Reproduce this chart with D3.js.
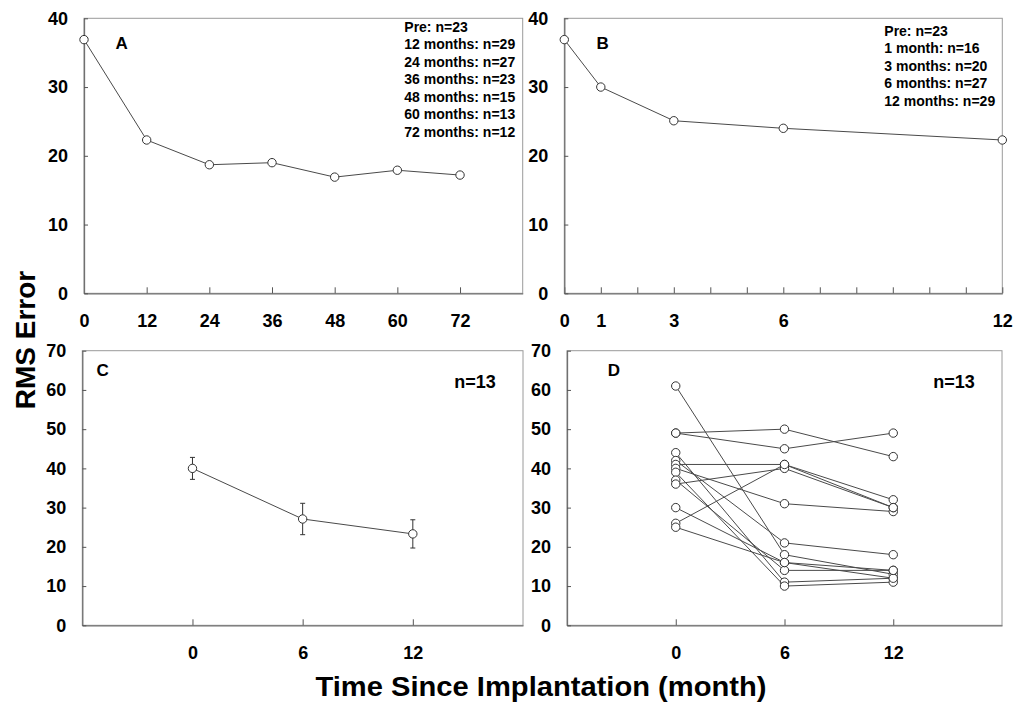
<!DOCTYPE html>
<html>
<head>
<meta charset="utf-8">
<script src="https://cdn.jsdelivr.net/npm/d3@7"></script>
<style>
  body { margin: 0; background: #fff; }
  svg { font-family: "Liberation Sans", Arial, sans-serif; }
  .tick text { font-weight: bold; font-size: 18px; fill: #000; }
</style>
</head>
<body>
<svg width="1016" height="703"></svg>
<script>
// Panel A: long term follow-up
const monthsA = [0, 12, 24, 36, 48, 60, 72];
const rmsA = [36.9, 22.3, 18.7, 19.0, 16.9, 17.9, 17.2];
const legendA = ["Pre: n=23", "12 months: n=29", "24 months: n=27", "36 months: n=23",
                 "48 months: n=15", "60 months: n=13", "72 months: n=12"];

// Panel B: first year
const monthsB = [0, 1, 3, 6, 12];
const rmsB = [36.9, 30.0, 25.1, 24.0, 22.3];
const legendB = ["Pre: n=23", "1 month: n=16", "3 months: n=20", "6 months: n=27", "12 months: n=29"];

// Panel C: mean +/- error, n=13
const monthsC = [0, 6, 12];
const meanC = [40.0, 27.1, 23.3];
const errC = [2.8, 4.0, 3.6];

// Panel D: individual subjects (0, 6, 12 months)
const monthsD = [0, 6, 12];
const subjectsD = [
    [61, 18, 13],
    [49, 50, 43],
    [49, 45, 49],
    [44, 11, 12],
    [42, 21, 18],
    [41, 41, 32],
    [40, 31, 29],
    [39, 10, 11],
    [37, 14, 14],
    [36, 40, 30],
    [30, 16, 12],
    [26, 41, 30],
    [25, 16, 14]
];

const svg = d3.select("svg");

function makePanel(p) {
    // рамка и оси одной панели
    let x = d3.scaleLinear().domain(p.xDomain).range([p.left, p.right]);
    let y = d3.scaleLinear().domain(p.yDomain).range([p.bottom, p.top]);

    svg.append("rect")
        .attr("x", p.left).attr("y", p.top)
        .attr("width", p.right - p.left).attr("height", p.bottom - p.top)
        .attr("fill", "none").attr("stroke", "#9a9a9a").attr("stroke-width", 1);

    let axisX = d3.axisBottom(x)
        .tickValues(p.xTicks)
        .tickSizeInner(-6).tickSizeOuter(0).tickPadding(21)
        .tickFormat(d => p.xLabels.includes(d) ? d : "");
    let gx = svg.append("g")
        .attr("transform", `translate(0, ${p.bottom})`)
        .call(axisX);

    let axisY = d3.axisLeft(y)
        .tickValues(p.yTicks)
        .tickSizeInner(-4).tickSizeOuter(0).tickPadding(16);
    let gy = svg.append("g")
        .attr("transform", `translate(${p.left}, 0)`)
        .call(axisY);

    [gx, gy].forEach(g => {
        g.select(".domain").attr("stroke", "#707070").attr("stroke-width", 1.3);
        g.selectAll(".tick line").attr("stroke", "#555");
    });
    return { x: x, y: y };
}

function drawSeries(sc, xs, ys) {
    let line = d3.line().x((d, i) => sc.x(xs[i])).y(d => sc.y(d));
    svg.append("path")
        .datum(ys)
        .attr("d", line)
        .attr("fill", "none").attr("stroke", "#4a4a4a").attr("stroke-width", 1);
    svg.append("g").selectAll("circle")
        .data(ys)
        .enter()
        .append("circle")
        .attr("cx", (d, i) => sc.x(xs[i]))
        .attr("cy", d => sc.y(d))
        .attr("r", 4.2)
        .attr("fill", "#fff").attr("stroke", "#333").attr("stroke-width", 1);
}

function label(txt, x, y, size, anchor) {
    svg.append("text")
        .attr("x", x).attr("y", y)
        .attr("text-anchor", anchor || "middle")
        .attr("font-weight", "bold").attr("font-size", size)
        .text(txt);
}

// A
let scA = makePanel({
    left: 84, right: 522.7, top: 18.3, bottom: 293.3,
    xDomain: [0, 84], yDomain: [0, 40],
    xTicks: monthsA, xLabels: monthsA, yTicks: [0, 10, 20, 30, 40]
});
drawSeries(scA, monthsA, rmsA);
label("A", 121.7, 49, 17);
legendA.forEach((t, i) => label(t, 404.3, 31.7 + i * 17.5, 14, "start"));

// B
let scB = makePanel({
    left: 564.3, right: 1002.3, top: 18.3, bottom: 293.3,
    xDomain: [0, 12], yDomain: [0, 40],
    xTicks: d3.range(0, 13), xLabels: monthsB, yTicks: [0, 10, 20, 30, 40]
});
drawSeries(scB, monthsB, rmsB);
label("B", 602.7, 49, 17);
legendB.forEach((t, i) => label(t, 884.3, 35.7 + i * 17.5, 14, "start"));

// C
let scC = makePanel({
    left: 82.3, right: 523, top: 350.7, bottom: 625.3,
    xDomain: [-6, 18], yDomain: [0, 70],
    xTicks: monthsC, xLabels: monthsC, yTicks: d3.range(0, 71, 10)
});
let bars = svg.append("g").attr("stroke", "#333").attr("stroke-width", 1);
meanC.forEach((m, i) => {
    let cx = scC.x(monthsC[i]);
    bars.append("line").attr("x1", cx).attr("x2", cx)
        .attr("y1", scC.y(m - errC[i])).attr("y2", scC.y(m + errC[i]));
    [m - errC[i], m + errC[i]].forEach(v => {
        bars.append("line").attr("x1", cx - 2.5).attr("x2", cx + 2.5)
            .attr("y1", scC.y(v)).attr("y2", scC.y(v));
    });
});
drawSeries(scC, monthsC, meanC);
label("C", 102.7, 376, 17);
label("n=13", 475, 388, 18);

// D
let scD = makePanel({
    left: 567, right: 1002, top: 350.7, bottom: 625.3,
    xDomain: [-6, 18], yDomain: [0, 70],
    xTicks: monthsD, xLabels: monthsD, yTicks: d3.range(0, 71, 10)
});
subjectsD.forEach(s => drawSeries(scD, monthsD, s));
label("D", 614, 376, 17);
label("n=13", 954, 388, 18);

// подписи осей
svg.append("text")
    .attr("transform", "translate(35, 340) rotate(-90)")
    .attr("text-anchor", "middle")
    .attr("font-weight", "bold").attr("font-size", 28)
    .text("RMS Error");
svg.append("text")
    .attr("x", 541).attr("y", 696)
    .attr("text-anchor", "middle")
    .attr("font-weight", "bold").attr("font-size", 28)
    .attr("textLength", 451).attr("lengthAdjust", "spacingAndGlyphs")
    .text("Time Since Implantation (month)");
</script>
</body>
</html>
